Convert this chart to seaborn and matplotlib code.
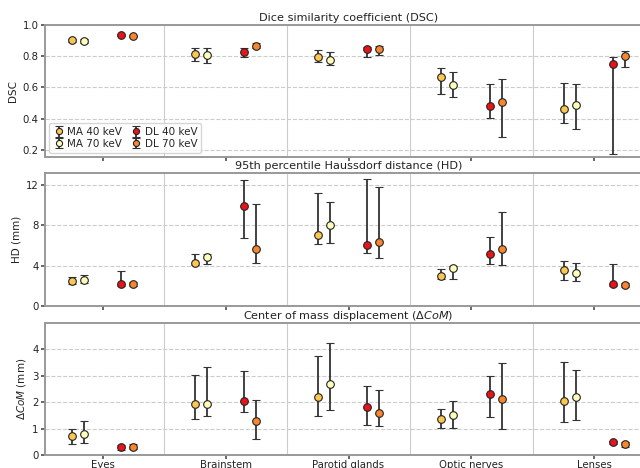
import numpy as np
import pandas as pd
import matplotlib
matplotlib.use("Agg")
import matplotlib.pyplot as plt
import seaborn as sns

# structures and methods
organs = ["Eyes", "Brainstem", "Parotid glands", "Optic nerves", "Lenses"]
methods = ["MA 40 keV", "MA 70 keV", "DL 40 keV", "DL 70 keV"]

# values: median, lower, upper (per method, per organ)
dsc_mid = {
    "MA 40 keV": [0.904, 0.812, 0.797, 0.666, 0.465],
    "MA 70 keV": [0.897, 0.810, 0.775, 0.617, 0.491],
    "DL 40 keV": [0.936, 0.829, 0.844, 0.482, 0.748],
    "DL 70 keV": [0.932, 0.867, 0.848, 0.504, 0.803],
}
dsc_lo = {
    "MA 40 keV": [0.893, 0.770, 0.760, 0.557, 0.375],
    "MA 70 keV": [0.884, 0.758, 0.741, 0.540, 0.337],
    "DL 40 keV": [0.930, 0.797, 0.797, 0.405, 0.174],
    "DL 70 keV": [0.926, 0.850, 0.807, 0.281, 0.733],
}
dsc_hi = {
    "MA 40 keV": [0.912, 0.850, 0.837, 0.722, 0.630],
    "MA 70 keV": [0.908, 0.850, 0.825, 0.696, 0.621],
    "DL 40 keV": [0.940, 0.855, 0.861, 0.621, 0.797],
    "DL 70 keV": [0.937, 0.884, 0.867, 0.653, 0.831],
}

hd_mid = {
    "MA 40 keV": [2.45, 4.31, 7.03, 3.02, 3.61],
    "MA 70 keV": [2.55, 4.87, 8.02, 3.78, 3.25],
    "DL 40 keV": [2.19, 9.88, 6.07, 5.14, 2.19],
    "DL 70 keV": [2.19, 5.63, 6.40, 5.70, 2.12],
}
hd_lo = {
    "MA 40 keV": [2.19, 4.04, 6.20, 2.68, 2.55],
    "MA 70 keV": [2.25, 4.21, 6.23, 2.72, 2.45],
    "DL 40 keV": [1.95, 6.76, 5.30, 4.18, 1.99],
    "DL 70 keV": [1.99, 4.28, 4.81, 4.11, 1.89],
}
hd_hi = {
    "MA 40 keV": [2.85, 5.17, 11.17, 3.65, 4.47],
    "MA 70 keV": [3.05, 5.17, 10.34, 3.98, 4.28],
    "DL 40 keV": [3.48, 12.46, 12.56, 6.86, 4.21],
    "DL 70 keV": [2.35, 10.08, 11.77, 9.35, 2.32],
}

com_mid = {
    "MA 40 keV": [0.73, 1.94, 2.21, 1.36, 2.05],
    "MA 70 keV": [0.81, 1.94, 2.70, 1.50, 2.20],
    "DL 40 keV": [0.30, 2.05, 1.81, 2.30, 0.48],
    "DL 70 keV": [0.31, 1.28, 1.60, 2.14, 0.40],
}
com_lo = {
    "MA 40 keV": [0.40, 1.38, 1.48, 1.04, 1.25],
    "MA 70 keV": [0.47, 1.48, 1.69, 1.02, 1.33],
    "DL 40 keV": [0.19, 1.64, 1.12, 1.43, 0.42],
    "DL 70 keV": [0.21, 0.59, 1.11, 0.99, 0.29],
}
com_hi = {
    "MA 40 keV": [0.97, 3.04, 3.75, 1.76, 3.52],
    "MA 70 keV": [1.30, 3.33, 4.23, 2.04, 3.22],
    "DL 40 keV": [0.39, 3.18, 2.62, 3.01, 0.52],
    "DL 70 keV": [0.42, 2.08, 2.48, 3.50, 0.50],
}

colors = ["#fdc651", "#ffffbb", "#e8141a", "#f7862f"]
offsets = [-0.25, -0.15, 0.15, 0.25]

sns.set_theme(style="white")
plt.rcParams["font.family"] = ["DejaVu Sans"]

fig = plt.figure(figsize=(6.4, 4.68), dpi=100)
left, width = 45 / 640, 607 / 640
ax1 = fig.add_axes([left, 311 / 468, width, 132 / 468])
ax2 = fig.add_axes([left, 162 / 468, width, 133 / 468], sharex=ax1)
ax3 = fig.add_axes([left, 13 / 468, width, 132 / 468], sharex=ax1)

panels = [
    (ax1, dsc_mid, dsc_lo, dsc_hi, "Dice similarity coefficient (DSC)", "DSC",
     (0.155, 1.0), [0.2, 0.4, 0.6, 0.8, 1.0]),
    (ax2, hd_mid, hd_lo, hd_hi, "95th percentile Haussdorf distance (HD)", "HD (mm)",
     (0, 13.2), [0, 4, 8, 12]),
    (ax3, com_mid, com_lo, com_hi, r"Center of mass displacement ($\Delta CoM$)",
     r"$\Delta CoM$ (mm)", (0, 5.0), [0, 1, 2, 3, 4]),
]

x = np.arange(len(organs))
for ax, mid, lo, hi, title, ylabel, ylim, yticks in panels:
    for m, c, off in zip(methods, colors, offsets):
        y = np.array(mid[m])
        err = np.vstack([y - np.array(lo[m]), np.array(hi[m]) - y])
        ax.errorbar(x + off, y, yerr=err, fmt="o", ms=5.5, mfc=c, mec="#222222",
                    mew=0.8, ecolor="#333333", elinewidth=1.3, capsize=3,
                    capthick=1.1, label=m, zorder=3)
    ax.set_title(title, fontsize=8.1, pad=3, color="#222222")
    ax.set_ylabel(ylabel, fontsize=7.5, labelpad=3, color="#222222")
    ax.set_ylim(*ylim)
    ax.set_yticks(yticks)
    ax.set_xlim(-0.47, 4.47)
    ax.set_xticks(x)
    ax.set_xticks(x[:-1] + 0.5, minor=True)
    ax.grid(axis="y", which="major", ls="--", color="#cccccc", lw=0.8)
    ax.grid(axis="x", which="minor", ls="-", color="#cccccc", lw=0.8)
    ax.tick_params(axis="both", which="major", labelsize=7.3, length=3,
                   color="#555555", labelcolor="#222222", pad=1.5,
                   left=True, bottom=True)
    ax.tick_params(axis="x", which="minor", length=0)
    for s in ax.spines.values():
        s.set_color("#999999")
        s.set_linewidth(1.4)
    ax.set_axisbelow(True)

ax1.tick_params(labelbottom=False)
ax2.tick_params(labelbottom=False)
ax3.set_xticklabels(organs)
ax3.tick_params(axis="x", pad=0.5)
ax2.set_yticklabels(["0", "4", "8", "12"])

ax1.legend(loc="lower left", ncol=2, fontsize=7.5, frameon=True, markerscale=0.8,
           handletextpad=0.3, columnspacing=0.9, labelspacing=0.15,
           handlelength=1.0, borderpad=0.4, borderaxespad=0.4)

fig.savefig("out.png", dpi=100)
